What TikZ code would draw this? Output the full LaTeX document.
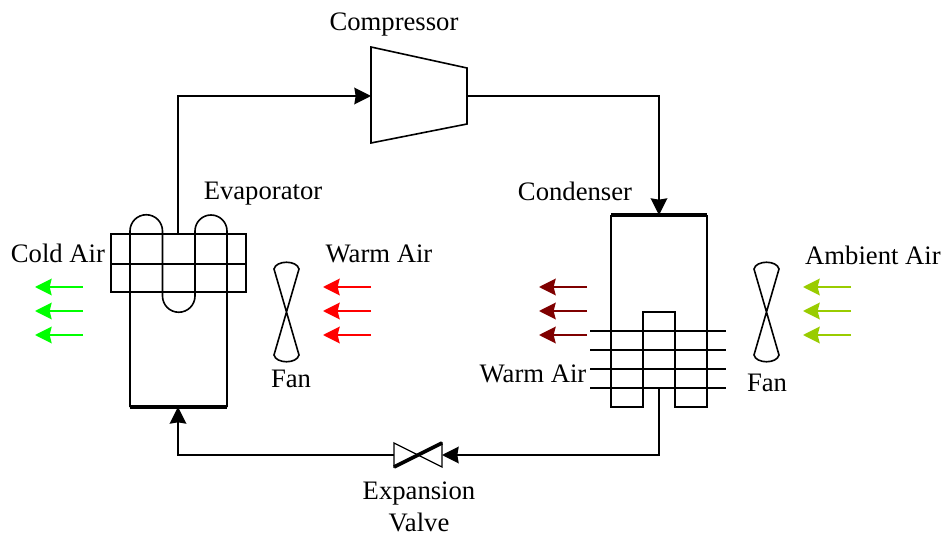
\documentclass[tikz,border=0pt]{standalone}
\usepackage{fontspec}
\setmainfont{Liberation Serif}
\usepackage{xcolor}
\usetikzlibrary{arrows.meta}
\definecolor{ink}{HTML}{000000}
\definecolor{cGreen}{HTML}{00FF00}
\definecolor{cRed}{HTML}{FF0000}
\definecolor{cMaroon}{HTML}{7F0000}
\definecolor{cOlive}{HTML}{99CC00}
\tikzset{
  lbl/.style={font=\fontsize{20pt}{24pt}\selectfont, text=ink, inner sep=0pt},
  pipe/.style={draw=ink, line width=1.2pt, line join=miter},
  bar/.style={draw=ink, line width=2.4pt},
  flow/.style={pipe, -{Stealth[length=12.5pt, width=12.5pt, inset=1pt]}},
  air/.style={line width=1.3pt, -{Stealth[length=12.5pt, width=12.5pt, inset=1.5pt]}},
}
\newcommand{\fanblade}[1]{%
  \draw[pipe] (#1) ++(-12.5,-43) .. controls +(2,-9) and +(-2,-9) .. ++(25,0)
    -- ++(-25,86) .. controls +(2,9) and +(-2,9) .. ++(25,0) -- cycle;
}
\begin{document}
\begin{tikzpicture}[x=0.75pt, y=-0.75pt]
\useasboundingbox (0,0) rectangle (946,538);
% compressor
\coordinate (compIn) at (371,96);
\coordinate (compOut) at (467,96);
\coordinate (evapOut) at (178,235);
\coordinate (evapIn) at (178,407);
\coordinate (condIn) at (659,215);
\coordinate (condOut) at (659,388);
\coordinate (valveL) at (394,455);
\coordinate (valveR) at (442,455);
\draw[pipe] (371,47) -- (467,68) -- (467,124) -- (371,143) -- cycle;
\node[lbl] (compLbl) at (394,25) {Compressor};
% pipes
\draw[flow] (evapOut) |- (compIn);
\draw[flow] (compOut) -| (condIn);
\draw[flow] (condOut) |- (valveR);
\draw[flow] (valveL) -| (evapIn);
% valve
\draw[pipe, line width=1pt] (394,443) -- (442,467) -- (442,443) -- (394,467) -- cycle;
\draw[bar, line width=2.8pt] (394,467) -- (442,443);
\node[lbl] (valveLbl) at (419,494) {Expansion};
\node[lbl] (valveLbl2) at (419,522) {Valve};
% evaporator
\draw[pipe] (111,234) rectangle (246,292);
\draw[pipe] (111,264) -- (246,264);
\draw[pipe] (130,407) -- (130,231) arc[start angle=180, end angle=360, radius=16.25]
  -- (162.5,296) arc[start angle=180, end angle=0, radius=16.25]
  -- (195,231) arc[start angle=180, end angle=360, radius=16] -- (227,407);
\draw[bar] (130,407) -- (227,407);
\node[lbl] (evapLbl) at (263,194) {Evaporator};
\node[lbl] (coldLbl) at (58,253) {Cold Air};
\node[lbl] (warmLbl) at (379,254) {Warm Air};
\node[lbl] (fanLbl) at (291,379) {Fan};
\fanblade{286.5,312}
% condenser
\draw[pipe] (611,215) -- (611,407) -- (643,407) -- (643,312) -- (675,312) -- (675,407) -- (707,407) -- (707,215);
\draw[bar] (611,215) -- (707,215);
\foreach \y in {331,350,369,388} \draw[pipe] (590,\y) -- (726,\y);
\node[lbl] (condLbl) at (575,191) {Condenser};
\node[lbl] (warmLbl2) at (533,374) {Warm Air};
\node[lbl] (ambLbl) at (873,255) {Ambient Air};
\node[lbl] (fanLbl2) at (767,383) {Fan};
\fanblade{766.5,312}
% air
\foreach \y in {287,311,335} {
  \draw[air, cGreen] (83,\y) -- (35,\y);
  \draw[air, cRed] (371,\y) -- (323,\y);
  \draw[air, cMaroon] (587,\y) -- (539,\y);
  \draw[air, cOlive] (851,\y) -- (803,\y);
}
\end{tikzpicture}
\end{document}
